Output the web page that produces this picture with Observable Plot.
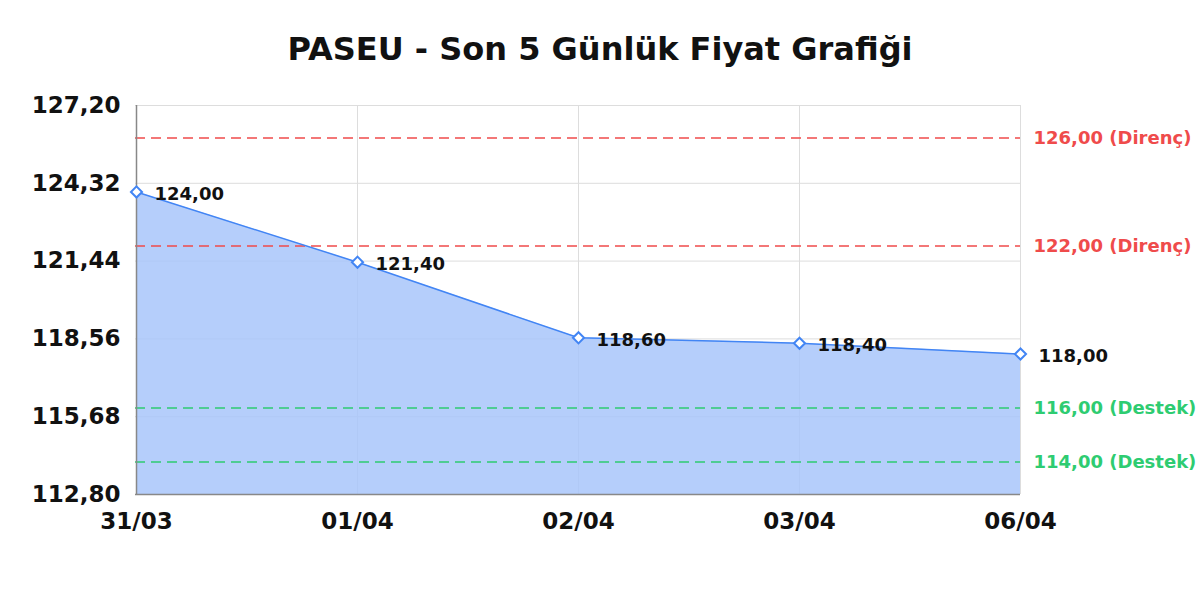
<!DOCTYPE html>
<html>
<head>
<meta charset="utf-8">
<script src="https://cdn.jsdelivr.net/npm/d3@7"></script>
<script src="https://cdn.jsdelivr.net/npm/@observablehq/plot@0.6"></script>
<style>
  body { margin: 0; background: #fff; font-family: "DejaVu Sans", sans-serif; }
  #chart svg { display: block; }
  #chart g[aria-label="ref-labels"] text { letter-spacing: 0.8px; }
  #chart g[aria-label="value-labels"] text { letter-spacing: 0.5px; }
</style>
</head>
<body>
<div id="chart"></div>
<script>
const title = "PASEU - Son 5 Günlük Fiyat Grafiği";
const dates = ["31/03", "01/04", "02/04", "03/04", "06/04"];
const prices = [124.00, 121.40, 118.60, 118.40, 118.00];
const yTicks = [112.80, 115.68, 118.56, 121.44, 124.32, 127.20];
const refValues = [126.00, 122.00, 116.00, 114.00];
const refLabels = ["Direnç", "Direnç", "Destek", "Destek"];
const refColors = ["#ef4b4b", "#ef4b4b", "#2ecc71", "#2ecc71"];

const fmt = v => v.toFixed(2).replace(".", ",");
const data = dates.map((d, i) => ({date: d, price: prices[i]}));
const refs = refValues.map((v, i) => ({value: v, label: `${fmt(v)} (${refLabels[i]})`, color: refColors[i]}));

const chart = Plot.plot({
  width: 1200,
  height: 600,
  marginLeft: 135,
  marginRight: 180,
  marginTop: 105,
  marginBottom: 106,
  style: {fontFamily: "DejaVu Sans, sans-serif", background: "#fff"},
  x: {type: "point", domain: dates, padding: 0},
  y: {domain: [112.8, 127.2]},
  marks: [
    Plot.gridY(yTicks, {stroke: "#dddddd", strokeOpacity: 1}),
    Plot.gridX(dates, {stroke: "#dddddd", strokeOpacity: 1}),
    Plot.areaY(data, {x: "date", y1: 112.8, y2: "price", fill: "#a8c6fa", fillOpacity: 0.85}),
    Plot.ruleY(refs, {y: "value", stroke: "color", strokeWidth: 1.5, strokeDasharray: "10,6"}),
    Plot.text(refs, {y: "value", text: "label", fill: "color", frameAnchor: "right", textAnchor: "start", dx: 13, fontSize: 18, fontWeight: "bold", ariaLabel: "ref-labels"}),
    Plot.lineY(data, {x: "date", y: "price", stroke: "#4285f4", strokeWidth: 1.5}),
    Plot.ruleX([dates[0]], {stroke: "#888888", strokeWidth: 1.5}),
    Plot.ruleY([112.8], {stroke: "#888888", strokeWidth: 1.5}),
    Plot.dot(data, {x: "date", y: "price", symbol: "diamond2", r: 5, stroke: "#4285f4", strokeWidth: 2, fill: "#ffffff"}),
    Plot.text(data, {x: "date", y: "price", text: d => fmt(d.price), textAnchor: "start", dx: 18, dy: 2, fontSize: 18, fontWeight: "bold", fill: "#111", ariaLabel: "value-labels"}),
    Plot.axisY(yTicks, {tickFormat: fmt, tickSize: 0, tickPadding: 15, fontSize: 23, fontWeight: "bold", fill: "#111", label: null}),
    Plot.axisX(dates, {tickSize: 0, tickPadding: 18, fontSize: 23, fontWeight: "bold", fill: "#111", label: null}),
    Plot.text([title], {frameAnchor: "top", lineAnchor: "middle", dx: 22, dy: -56, fontSize: 32, fontWeight: "bold", fill: "#111"})
  ]
});
document.getElementById("chart").appendChild(chart);
</script>
</body>
</html>
